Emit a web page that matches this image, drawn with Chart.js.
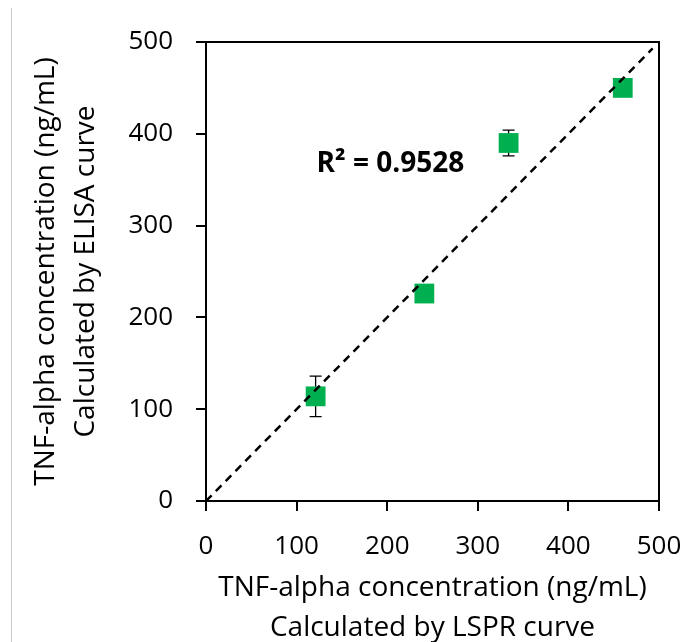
<!DOCTYPE html>
<html>
<head>
<meta charset="utf-8">
<script src="https://cdn.jsdelivr.net/npm/chart.js@4/dist/chart.umd.min.js"></script>
<style>
  html, body { margin: 0; padding: 0; background: #fff; overflow: hidden; }
  #wrap { position: relative; width: 687px; height: 642px; }
  #edge { position: absolute; left: 11px; top: 8px; width: 1px; height: 634px; background: #c8c8c8; }
</style>
</head>
<body>
<div id="wrap">
  <div id="edge"></div>
  <canvas id="chart-1" width="687" height="642"></canvas>
</div>
<script>
// values
var lspr_x = [121, 241, 334, 460];
var elisa_y = [114, 226, 390, 450];
var elisa_err = [22, 5, 14, 4];

// dashed trend line (through origin, slope ~1)
var trend_x = [0, 493];
var trend_y = [0, 493];

var r2_text = "R\u00b2 = 0.9528";
var r2_pos = [122, 358];

var tick_values = [0, 100, 200, 300, 400, 500];

var points = [];
for (let i = 0; i < lspr_x.length; i++) {
  points.push({ x: lspr_x[i], y: elisa_y[i] });
}
var trend = [];
for (let i = 0; i < trend_x.length; i++) {
  trend.push({ x: trend_x[i], y: trend_y[i] });
}

var fontName = "'Open Sans', sans-serif";

// error bars, plot frame and the R² label
var extras = {
  id: "extras",
  beforeDatasetsDraw: function (chart) {
    var ctx = chart.ctx;
    var xs = chart.scales.x;
    var ys = chart.scales.y;
    ctx.save();
    ctx.strokeStyle = "#000";
    ctx.lineWidth = 1.3;
    for (let i = 0; i < lspr_x.length; i++) {
      var px = xs.getPixelForValue(lspr_x[i]);
      var top = ys.getPixelForValue(elisa_y[i] + elisa_err[i]);
      var bot = ys.getPixelForValue(elisa_y[i] - elisa_err[i]);
      ctx.beginPath();
      ctx.moveTo(px, top);
      ctx.lineTo(px, bot);
      ctx.moveTo(px - 6, top);
      ctx.lineTo(px + 6, top);
      ctx.moveTo(px - 6, bot);
      ctx.lineTo(px + 6, bot);
      ctx.stroke();
    }
    ctx.restore();
  },
  afterDraw: function (chart) {
    var ctx = chart.ctx;
    var a = chart.chartArea;
    ctx.save();
    ctx.strokeStyle = "#000";
    ctx.lineWidth = 2;
    ctx.strokeRect(a.left, a.top, a.right - a.left, a.bottom - a.top);
    ctx.fillStyle = "#000";
    ctx.font = "bold 28px " + fontName;
    ctx.textAlign = "left";
    ctx.textBaseline = "alphabetic";
    ctx.fillText(r2_text, chart.scales.x.getPixelForValue(r2_pos[0]), chart.scales.y.getPixelForValue(r2_pos[1]));
    ctx.restore();
  },
};

const chart1 = document.getElementById("chart-1").getContext("2d");
const myChart1 = new Chart(chart1, {
  type: "scatter",
  data: {
    datasets: [
      {
        label: "trend",
        data: trend,
        showLine: true,
        borderColor: "#000",
        borderWidth: 2.5,
        borderDash: [8, 6],
        pointRadius: 0,
        fill: false,
        order: 0,
      },
      {
        label: "samples",
        data: points,
        pointStyle: "rect",
        pointRadius: 14,
        backgroundColor: "#00B050",
        borderColor: "#00B050",
        borderWidth: 0,
        order: 1,
      },
    ],
  },
  options: {
    responsive: false,
    animation: false,
    layout: { padding: { top: 42, right: 28, left: 0, bottom: 0 } },
    plugins: {
      legend: { display: false },
      tooltip: { enabled: false },
    },
    scales: {
      x: {
        type: "linear",
        min: 0,
        max: 500,
        afterBuildTicks: function (s) { s.ticks = tick_values.map(function (v) { return { value: v }; }); },
        afterFit: function (s) { s.height = 141; s.paddingLeft = 0; s.paddingRight = 0; },
        ticks: { color: "#000", padding: 20, font: { family: fontName, size: 26 }, maxRotation: 0 },
        grid: { drawOnChartArea: false, drawTicks: true, tickLength: 10, color: "#000", lineWidth: 2 },
        border: { display: true, color: "#000", width: 2 },
        title: {
          display: true,
          text: ["TNF-alpha concentration (ng/mL)", "Calculated by LSPR curve"],
          color: "#000",
          font: { family: fontName, size: 28, lineHeight: 1.43 },
          padding: { top: 0, bottom: -6 },
        },
      },
      y: {
        type: "linear",
        min: 0,
        max: 500,
        afterBuildTicks: function (s) { s.ticks = tick_values.map(function (v) { return { value: v }; }); },
        afterFit: function (s) { s.width = 206; s.paddingTop = 0; s.paddingBottom = 0; },
        ticks: { color: "#000", padding: 23, font: { family: fontName, size: 26 } },
        grid: { drawOnChartArea: false, drawTicks: true, tickLength: 10, color: "#000", lineWidth: 2 },
        border: { display: true, color: "#000", width: 2 },
        title: {
          display: true,
          text: ["TNF-alpha concentration (ng/mL)", "Calculated by ELISA curve"],
          color: "#000",
          font: { family: fontName, size: 28, lineHeight: 1.43 },
          padding: { top: 26, bottom: 0 },
        },
      },
    },
  },
  plugins: [extras],
});
</script>
</body>
</html>
